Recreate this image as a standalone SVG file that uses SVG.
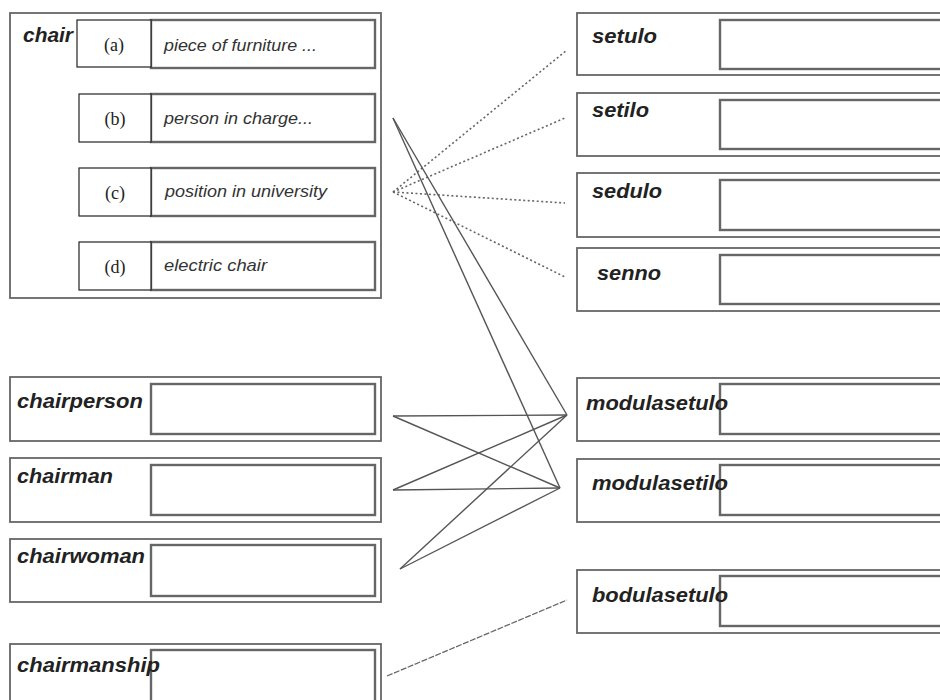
<svg xmlns="http://www.w3.org/2000/svg" width="940" height="700" viewBox="0 0 940 700">
<style>
.outer{fill:#fff;stroke:#666;stroke-width:1.8}
.inner{fill:#fff;stroke:#666;stroke-width:2.4}
.lbl{fill:#fff;stroke:#222;stroke-width:1.2}
.word{font-family:"Liberation Sans",Arial,sans-serif;font-weight:bold;font-style:italic;font-size:20px;fill:#222}
.desc{font-family:"Liberation Sans",Arial,sans-serif;font-style:italic;font-size:17px;fill:#333}
.sense{font-family:"Liberation Serif","Times New Roman",serif;font-size:18px;fill:#222;text-anchor:middle}
.solid{stroke:#555;stroke-width:1.4;fill:none}
.dot{stroke:#666;stroke-width:1.6;fill:none;stroke-dasharray:2 2.5}
.dash{stroke:#666;stroke-width:1.3;fill:none;stroke-dasharray:6 1.5}
</style>
<rect width="940" height="700" fill="#fff"/>
<g id="chair">
<rect class="outer" x="10" y="13" width="371" height="285"/>
<text class="word" x="23" y="42" textLength="50" lengthAdjust="spacingAndGlyphs">chair</text>
</g>
<g id="sense-a">
<rect class="inner" x="151" y="20" width="224" height="48"/>
<rect class="lbl" x="77" y="20" width="74" height="47"/>
<text class="sense" x="114" y="51">(a)</text>
<text class="desc" x="164" y="51" textLength="153" lengthAdjust="spacingAndGlyphs">piece of furniture ...</text>
</g>
<g id="sense-b">
<rect class="inner" x="151" y="94" width="224" height="48"/>
<rect class="lbl" x="79" y="94" width="72" height="48"/>
<text class="sense" x="115" y="125">(b)</text>
<text class="desc" x="164" y="124" textLength="149" lengthAdjust="spacingAndGlyphs">person in charge...</text>
</g>
<g id="sense-c">
<rect class="inner" x="151" y="168" width="224" height="48"/>
<rect class="lbl" x="79" y="168" width="72" height="48"/>
<text class="sense" x="115" y="199">(c)</text>
<text class="desc" x="165" y="197" textLength="162" lengthAdjust="spacingAndGlyphs">position in university</text>
</g>
<g id="sense-d">
<rect class="inner" x="151" y="242" width="224" height="48"/>
<rect class="lbl" x="79" y="242" width="72" height="48"/>
<text class="sense" x="115" y="273">(d)</text>
<text class="desc" x="164" y="271" textLength="103" lengthAdjust="spacingAndGlyphs">electric chair</text>
</g>
<g id="chairperson">
<rect class="outer" x="10" y="377" width="371" height="64"/>
<rect class="inner" x="151" y="384" width="224" height="50"/>
<text class="word" x="17" y="408" textLength="126" lengthAdjust="spacingAndGlyphs">chairperson</text>
</g>
<g id="chairman">
<rect class="outer" x="10" y="458" width="371" height="64"/>
<rect class="inner" x="151" y="465" width="224" height="50"/>
<text class="word" x="17" y="483" textLength="96" lengthAdjust="spacingAndGlyphs">chairman</text>
</g>
<g id="chairwoman">
<rect class="outer" x="10" y="539" width="371" height="63"/>
<rect class="inner" x="151" y="545" width="224" height="51"/>
<text class="word" x="17" y="563" textLength="128" lengthAdjust="spacingAndGlyphs">chairwoman</text>
</g>
<g id="chairmanship">
<rect class="outer" x="10" y="644" width="371" height="70"/>
<rect class="inner" x="151" y="650" width="224" height="60"/>
<text class="word" x="17" y="672" textLength="143" lengthAdjust="spacingAndGlyphs">chairmanship</text>
</g>
<g id="setulo">
<rect class="outer" x="577" y="13" width="370" height="62"/>
<rect class="inner" x="720" y="20" width="230" height="49"/>
<text class="word" x="592" y="43" textLength="65" lengthAdjust="spacingAndGlyphs">setulo</text>
</g>
<g id="setilo">
<rect class="outer" x="577" y="93" width="370" height="63"/>
<rect class="inner" x="720" y="100" width="230" height="49"/>
<text class="word" x="592" y="117" textLength="57" lengthAdjust="spacingAndGlyphs">setilo</text>
</g>
<g id="sedulo">
<rect class="outer" x="577" y="173" width="370" height="64"/>
<rect class="inner" x="720" y="180" width="230" height="50"/>
<text class="word" x="592" y="198" textLength="70" lengthAdjust="spacingAndGlyphs">sedulo</text>
</g>
<g id="senno">
<rect class="outer" x="577" y="248" width="370" height="63"/>
<rect class="inner" x="720" y="255" width="230" height="49"/>
<text class="word" x="597" y="280" textLength="64" lengthAdjust="spacingAndGlyphs">senno</text>
</g>
<g id="modulasetulo">
<rect class="outer" x="577" y="378" width="370" height="63"/>
<rect class="inner" x="720" y="384" width="230" height="50"/>
<text class="word" x="586" y="410" textLength="142" lengthAdjust="spacingAndGlyphs">modulasetulo</text>
</g>
<g id="modulasetilo">
<rect class="outer" x="577" y="459" width="370" height="63"/>
<rect class="inner" x="720" y="465" width="230" height="50"/>
<text class="word" x="592" y="490" textLength="136" lengthAdjust="spacingAndGlyphs">modulasetilo</text>
</g>
<g id="bodulasetulo">
<rect class="outer" x="577" y="570" width="370" height="63"/>
<rect class="inner" x="720" y="576" width="230" height="50"/>
<text class="word" x="592" y="602" textLength="136" lengthAdjust="spacingAndGlyphs">bodulasetulo</text>
</g>
<g id="connectors">
<line class="dot" x1="393" y1="192" x2="567" y2="50"/>
<line class="dot" x1="393" y1="192" x2="565" y2="118"/>
<line class="dot" x1="393" y1="192" x2="565" y2="203"/>
<line class="dot" x1="393" y1="192" x2="565" y2="277"/>
<line class="solid" x1="393" y1="118" x2="567" y2="415"/>
<line class="solid" x1="393" y1="118" x2="560" y2="488"/>
<line class="solid" x1="393" y1="416" x2="567" y2="415"/>
<line class="solid" x1="393" y1="416" x2="560" y2="488"/>
<line class="solid" x1="393" y1="490" x2="567" y2="415"/>
<line class="solid" x1="393" y1="490" x2="560" y2="488"/>
<line class="solid" x1="400" y1="569" x2="567" y2="415"/>
<line class="solid" x1="400" y1="569" x2="560" y2="488"/>
<line class="dash" x1="387" y1="676" x2="567" y2="600"/>
</g>
</svg>
